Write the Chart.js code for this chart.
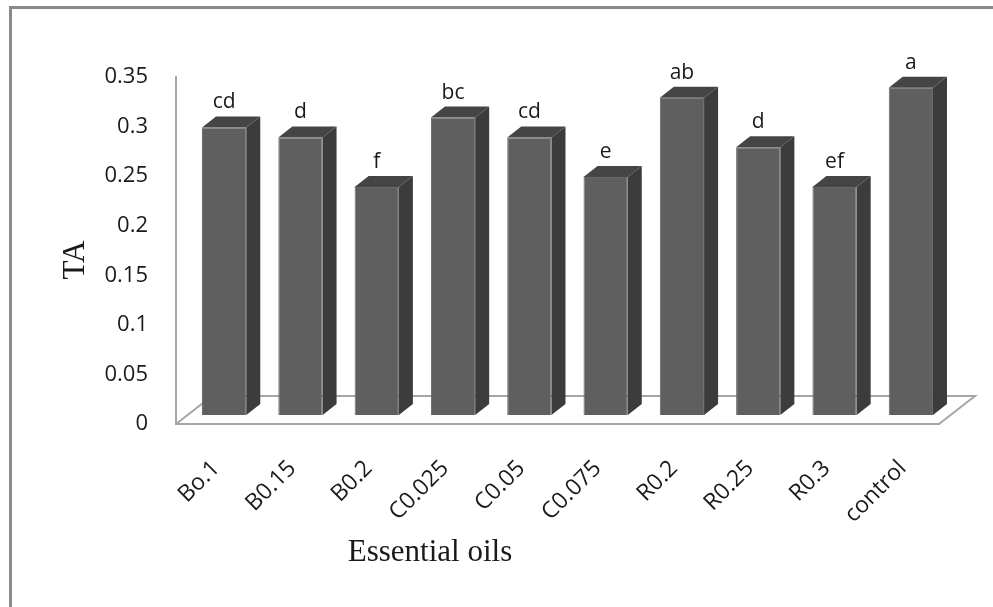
<!DOCTYPE html>
<html lang="en">
<head>
<meta charset="UTF-8">
<title>TA - Essential oils</title>
<script src="https://cdn.jsdelivr.net/npm/chart.js"></script>
<style>
  html, body { margin: 0; padding: 0; background: #fff; }
  #wrap { position: relative; width: 993px; height: 607px; overflow: hidden; }
  #frame {
    position: absolute; left: 9px; top: 6px; right: -5px; bottom: -5px;
    border-top: 3px solid #8a8a8a; border-left: 3px solid #8a8a8a;
    pointer-events: none;
  }
</style>
</head>
<body>
<div id="wrap">
  <canvas id="taChart" width="993" height="607"></canvas>
  <div id="frame"></div>
</div>

<script>
  // data
  const categories = ['Bo.1', 'B0.15', 'B0.2', 'C0.025', 'C0.05', 'C0.075', 'R0.2', 'R0.25', 'R0.3', 'control'];
  const taValues = [0.29, 0.28, 0.23, 0.30, 0.28, 0.24, 0.32, 0.27, 0.23, 0.33];
  const letters = ['cd', 'd', 'f', 'bc', 'cd', 'e', 'ab', 'd', 'ef', 'a'];

  const FRONT = '#5f5f5f', SIDE = '#3c3c3c', TOP = '#454545';
  const AXIS = '#a6a6a6', TEXT = '#1a1a1a';
  const shift = { x: 10, y: -9 };        // bars stand a little behind the front edge of the floor
  const depth = { x: 14, y: -11 };       // bar thickness
  const floorDepth = { x: 36, y: -28 };  // floor depth

  // fake Excel-style 3D: floor, side + top faces, letters, axis titles
  const bars3d = {
    id: 'bars3d',
    beforeDatasetsDraw(chart) {
      const { ctx, chartArea: a } = chart;
      ctx.save();
      ctx.strokeStyle = AXIS;
      ctx.lineWidth = 2;
      ctx.beginPath();
      ctx.moveTo(a.left, a.bottom);
      ctx.lineTo(a.left + floorDepth.x, a.bottom + floorDepth.y);
      ctx.lineTo(a.right + floorDepth.x, a.bottom + floorDepth.y);
      ctx.lineTo(a.right, a.bottom);
      ctx.stroke();
      ctx.restore();

      ctx.save();
      ctx.translate(shift.x, shift.y);
    },
    afterDatasetsDraw(chart) {
      const ctx = chart.ctx;
      chart.getDatasetMeta(0).data.forEach((bar, i) => {
        const { x, y, base, width } = bar.getProps(['x', 'y', 'base', 'width'], true);
        const l = x - width / 2, r = x + width / 2;

        ctx.fillStyle = SIDE;
        ctx.beginPath();
        ctx.moveTo(r, y);
        ctx.lineTo(r + depth.x, y + depth.y);
        ctx.lineTo(r + depth.x, base + depth.y);
        ctx.lineTo(r, base);
        ctx.closePath();
        ctx.fill();

        ctx.fillStyle = TOP;
        ctx.beginPath();
        ctx.moveTo(l, y);
        ctx.lineTo(l + depth.x, y + depth.y);
        ctx.lineTo(r + depth.x, y + depth.y);
        ctx.lineTo(r, y);
        ctx.closePath();
        ctx.fill();

        ctx.fillStyle = TEXT;
        ctx.font = '21px "Open Sans"';
        ctx.textAlign = 'center';
        ctx.textBaseline = 'alphabetic';
        ctx.fillText(letters[i], x, y - 19);
      });
      ctx.restore();
    },
    afterDraw(chart) {
      const ctx = chart.ctx;
      ctx.save();
      ctx.fillStyle = TEXT;
      ctx.font = '31px "Liberation Serif"';
      ctx.textAlign = 'center';
      ctx.textBaseline = 'middle';
      ctx.fillText('Essential oils', 430, 553);
      ctx.translate(76, 260);
      ctx.rotate(-Math.PI / 2);
      ctx.fillText('TA', 0, 0);
      ctx.restore();
    }
  };

  new Chart(document.getElementById('taChart'), {
    type: 'bar',
    data: {
      labels: categories,
      datasets: [{
        label: 'TA',
        data: taValues,
        backgroundColor: FRONT,
        borderColor: '#686868',
        borderWidth: 1,
        categoryPercentage: 1,
        barPercentage: 0.58,
        clip: false
      }]
    },
    options: {
      responsive: false,
      animation: false,
      layout: { padding: { top: 77, right: 54, left: 0, bottom: 0 } },
      plugins: {
        legend: { display: false },
        tooltip: { enabled: false }
      },
      scales: {
        x: {
          grid: { display: false, drawTicks: false },
          border: { display: true, color: AXIS, width: 2 },
          ticks: {
            minRotation: 45,
            maxRotation: 45,
            padding: 31,
            labelOffset: 2,
            color: TEXT,
            font: { family: '"Open Sans"', size: 23 }
          },
          afterFit: s => { s.height = 183; }
        },
        y: {
          min: 0,
          max: 0.35,
          grid: { display: false, drawTicks: false },
          border: { display: true, color: AXIS, width: 2 },
          ticks: {
            stepSize: 0.05,
            padding: 28,
            color: TEXT,
            font: { family: '"Open Sans"', size: 22 },
            callback: v => String(+v.toFixed(2))
          },
          afterFit: s => { s.width = 176; }
        }
      }
    },
    plugins: [bars3d]
  });
</script>
</body>
</html>
